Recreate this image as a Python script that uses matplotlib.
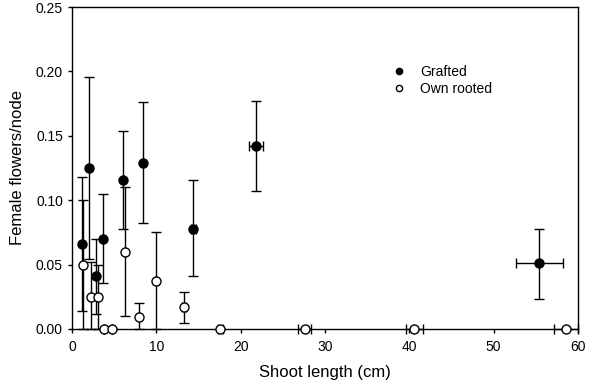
import matplotlib
matplotlib.use("Agg")
import matplotlib.pyplot as plt
from matplotlib.lines import Line2D

plt.rcParams['font.family'] = ['Liberation Sans', 'DejaVu Sans']

# Grafted
g_x = [1.2, 2.05, 2.8, 3.7, 6.1, 8.4, 14.4, 21.8, 55.4]
g_y = [0.066, 0.125, 0.041, 0.070, 0.116, 0.129, 0.078, 0.142, 0.051]
g_yerr_lo = [0.052, 0.071, 0.029, 0.034, 0.038, 0.047, 0.037, 0.035, 0.028]
g_yerr_hi = [0.052, 0.071, 0.029, 0.035, 0.038, 0.047, 0.038, 0.035, 0.027]
g_xerr = [0.0, 0.0, 0.0, 0.0, 0.0, 0.0, 0.3, 0.8, 2.8]

# Own rooted
o_x = [1.35, 2.25, 3.05, 3.85, 4.7, 6.3, 8.0, 10.0, 13.3, 17.6, 27.6, 40.6, 58.6]
o_y = [0.050, 0.025, 0.025, 0.0, 0.0, 0.060, 0.0095, 0.037, 0.017, 0.0, 0.0, 0.0, 0.0]
o_yerr_lo = [0.050, 0.025, 0.025, 0.0, 0.0, 0.050, 0.0095, 0.037, 0.012, 0.0, 0.0, 0.0, 0.0]
o_yerr_hi = [0.050, 0.027, 0.025, 0.0, 0.0, 0.050, 0.0105, 0.038, 0.0115, 0.0, 0.0, 0.0, 0.0]
o_xerr = [0.0, 0.0, 0.0, 0.0, 0.0, 0.0, 0.0, 0.0, 0.2, 0.3, 0.8, 1.0, 1.4]

x_ticks = [0, 10, 20, 30, 40, 50, 60]
y_ticks = [0.0, 0.05, 0.10, 0.15, 0.20, 0.25]
y_ticklabels = ['0.00', '0.05', '0.10', '0.15', '0.20', '0.25']

fig = plt.figure(figsize=(5.94, 3.85), dpi=100)
ax = fig.add_axes([0.1212, 0.1455, 0.8518, 0.8363])

ax.errorbar(g_x, g_y, yerr=[g_yerr_lo, g_yerr_hi], xerr=g_xerr, fmt='o',
            color='black', mfc='black', mec='black', ms=6.5, elinewidth=1.0,
            capsize=3.6, capthick=1.0, zorder=3, clip_on=False)
ax.errorbar(o_x, o_y, yerr=[o_yerr_lo, o_yerr_hi], xerr=o_xerr, fmt='o',
            color='black', mfc='white', mec='black', ms=6.5, elinewidth=1.0,
            capsize=3.6, capthick=1.0, zorder=4, clip_on=False)

ax.set_xlim(0, 60)
ax.set_ylim(0, 0.25)
ax.set_xticks(x_ticks)
ax.set_yticks(y_ticks)
ax.set_yticklabels(y_ticklabels)
ax.tick_params(direction='out', length=3, width=1, labelsize=10)
ax.tick_params(axis='x', pad=5)
for s in ax.spines.values():
    s.set_linewidth(1.0)

ax.set_xlabel('Shoot length (cm)', fontsize=12, labelpad=8)
ax.set_ylabel('Female flowers/node', fontsize=12, labelpad=8)

handles = [Line2D([], [], marker='o', ls='none', mfc='black', mec='black', ms=4.5),
           Line2D([], [], marker='o', ls='none', mfc='white', mec='black', ms=4.5)]
ax.legend(handles, ['Grafted', 'Own rooted'], loc='upper left',
          bbox_to_anchor=(0.622, 0.837), frameon=False, fontsize=10,
          handletextpad=1.0, labelspacing=0.2, handlelength=1.0,
          borderaxespad=0.0)

fig.savefig('out.png', dpi=100)
